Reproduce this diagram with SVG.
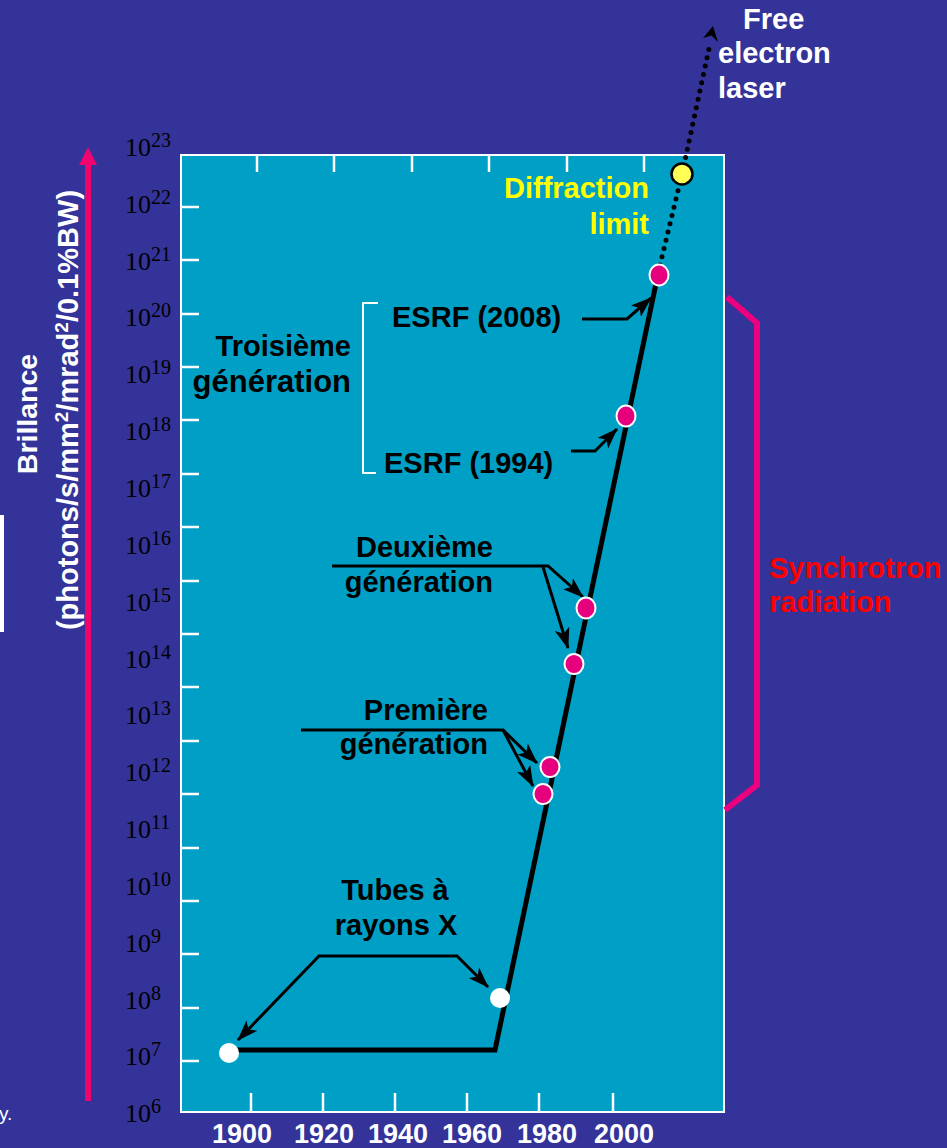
<svg xmlns="http://www.w3.org/2000/svg" width="947" height="1148" viewBox="0 0 947 1148">
<style>
.lbl{font-family:"Liberation Sans",Arial,sans-serif;font-weight:bold;font-size:29px;fill:#000}
.w{fill:#fff}
.yl{font-family:"Liberation Serif","Times New Roman",serif;font-size:26px;fill:#000}
.sup{font-size:20px}
.tick{stroke:#fff;stroke-width:2.5}
.conn{fill:none;stroke:#000;stroke-width:3}
.pk{fill:#E6007E;stroke:#fff;stroke-width:2}
</style>
<defs>
<marker id="ah" markerUnits="userSpaceOnUse" markerWidth="21" markerHeight="15" viewBox="0 0 21 15" refX="20" refY="7.5" orient="auto-start-reverse">
<path d="M0,0 L21,7.5 L0,15 L5,7.5 z" fill="#000"/>
</marker>
</defs>
<rect x="0" y="0" width="947" height="1148" fill="#333399"/>
<rect x="0" y="515" width="4" height="117" fill="#fff"/>
<text x="-1" y="1120" style="font-family:'Liberation Sans',Arial,sans-serif;font-size:19px;fill:#fff">y.</text>

<g id="yaxis-arrow">
<line x1="88" y1="1101" x2="88" y2="160" stroke="#F0056E" stroke-width="6"/>
<polygon points="88,147 97,165 79,165" fill="#F0056E"/>
<text transform="translate(37,414) rotate(-90)" text-anchor="middle" class="lbl w" style="font-size:28.5px">Brillance</text>
<text transform="translate(78,410) rotate(-90)" text-anchor="middle" class="lbl w">(photons/s/mm<tspan dy="-10" font-size="19">2</tspan><tspan dy="10">/mrad</tspan><tspan dy="-10" font-size="19">2</tspan><tspan dy="10">/0.1%BW)</tspan></text>
</g>

<g id="plot">
<rect x="181" y="155" width="543" height="957" fill="#00A0C6" stroke="#fff" stroke-width="2"/>
<g class="tick">
<line x1="181" y1="207" x2="199" y2="207"/><line x1="181" y1="260" x2="199" y2="260"/>
<line x1="181" y1="314" x2="199" y2="314"/><line x1="181" y1="367" x2="199" y2="367"/>
<line x1="181" y1="420" x2="199" y2="420"/><line x1="181" y1="474" x2="199" y2="474"/>
<line x1="181" y1="527" x2="199" y2="527"/><line x1="181" y1="581" x2="199" y2="581"/>
<line x1="181" y1="634" x2="199" y2="634"/><line x1="181" y1="687" x2="199" y2="687"/>
<line x1="181" y1="741" x2="199" y2="741"/><line x1="181" y1="794" x2="199" y2="794"/>
<line x1="181" y1="848" x2="199" y2="848"/><line x1="181" y1="901" x2="199" y2="901"/>
<line x1="181" y1="954" x2="199" y2="954"/><line x1="181" y1="1008" x2="199" y2="1008"/>
<line x1="181" y1="1061" x2="199" y2="1061"/>
<line x1="257" y1="155" x2="257" y2="172"/><line x1="334" y1="155" x2="334" y2="172"/>
<line x1="412" y1="155" x2="412" y2="172"/><line x1="489" y1="155" x2="489" y2="172"/>
<line x1="567" y1="155" x2="567" y2="172"/><line x1="644" y1="155" x2="644" y2="172"/>
<line x1="251" y1="1093" x2="251" y2="1112"/><line x1="323" y1="1093" x2="323" y2="1112"/>
<line x1="395" y1="1093" x2="395" y2="1112"/><line x1="467" y1="1093" x2="467" y2="1112"/>
<line x1="539" y1="1093" x2="539" y2="1112"/><line x1="613" y1="1093" x2="613" y2="1112"/>
</g>
</g>

<g id="y-labels" class="yl">
<text x="125" y="156">10<tspan class="sup" dy="-9">23</tspan></text>
<text x="125" y="213">10<tspan class="sup" dy="-9">22</tspan></text>
<text x="125" y="270">10<tspan class="sup" dy="-9">21</tspan></text>
<text x="125" y="326">10<tspan class="sup" dy="-9">20</tspan></text>
<text x="125" y="383">10<tspan class="sup" dy="-9">19</tspan></text>
<text x="125" y="440">10<tspan class="sup" dy="-9">18</tspan></text>
<text x="125" y="497">10<tspan class="sup" dy="-9">17</tspan></text>
<text x="125" y="554">10<tspan class="sup" dy="-9">16</tspan></text>
<text x="125" y="611">10<tspan class="sup" dy="-9">15</tspan></text>
<text x="125" y="668">10<tspan class="sup" dy="-9">14</tspan></text>
<text x="125" y="724">10<tspan class="sup" dy="-9">13</tspan></text>
<text x="125" y="781">10<tspan class="sup" dy="-9">12</tspan></text>
<text x="125" y="838">10<tspan class="sup" dy="-9">11</tspan></text>
<text x="125" y="895">10<tspan class="sup" dy="-9">10</tspan></text>
<text x="125" y="952">10<tspan class="sup" dy="-9">9</tspan></text>
<text x="125" y="1009">10<tspan class="sup" dy="-9">8</tspan></text>
<text x="125" y="1065">10<tspan class="sup" dy="-9">7</tspan></text>
<text x="125" y="1122">10<tspan class="sup" dy="-9">6</tspan></text>
</g>

<g id="x-labels" class="lbl w" text-anchor="middle" style="font-size:27px">
<text x="242" y="1143">1900</text>
<text x="324" y="1143">1920</text>
<text x="398" y="1143">1940</text>
<text x="472" y="1143">1960</text>
<text x="547" y="1143">1980</text>
<text x="624" y="1143">2000</text>
</g>

<g id="connectors">
<path d="M658,274 L495,1050 L229,1050" fill="none" stroke="#000" stroke-width="5" stroke-linejoin="miter"/>
<path d="M660,265 L682,174 L710,44" fill="none" stroke="#000" stroke-width="5" stroke-linecap="round" stroke-dasharray="0 8.5"/>
<polygon points="713,26 718,42 711.5,35.5 703,38" fill="#000"/>
<path class="conn" d="M238,1040 L319,956 L457,956 L488,987" marker-start="url(#ah)" marker-end="url(#ah)"/>
<path class="conn" d="M301,730 L503,730 L537,763" marker-end="url(#ah)"/>
<path class="conn" d="M503,730 L533,786" marker-end="url(#ah)"/>
<path class="conn" d="M332,566 L548,566 L583,597" marker-end="url(#ah)"/>
<path class="conn" d="M543,567 L568,648" marker-end="url(#ah)"/>
<path class="conn" d="M582,319 L627,319 L651,298" marker-end="url(#ah)"/>
<path class="conn" d="M571,451 L595,451 L617,429" marker-end="url(#ah)"/>
<path d="M378,303 L363,303 L363,473 L376,473" fill="none" stroke="#fff" stroke-width="2"/>
<path d="M727,297 L757,323 L757,785 L725,810" fill="none" stroke="#EC0080" stroke-width="6"/>
</g>

<g id="points">
<circle id="p-tube1" cx="229" cy="1053" r="10" fill="#fff"/>
<circle id="p-tube2" cx="500" cy="998" r="10" fill="#fff"/>
<ellipse id="p-g1a" class="pk" cx="543" cy="794" rx="9.5" ry="10"/>
<ellipse id="p-g1b" class="pk" cx="550" cy="767" rx="9.5" ry="10"/>
<ellipse id="p-g2a" class="pk" cx="574" cy="664" rx="9.5" ry="10"/>
<ellipse id="p-g2b" class="pk" cx="586" cy="608" rx="9.5" ry="10.5"/>
<ellipse id="p-esrf94" class="pk" cx="626" cy="416" rx="9.5" ry="10.5"/>
<ellipse id="p-esrf08" class="pk" cx="659" cy="275" rx="9.5" ry="10.5"/>
<circle id="p-diff" cx="682" cy="174" r="10.5" fill="#FFFF55" stroke="#000" stroke-width="2.5"/>
</g>

<g id="labels" class="lbl">
<g id="n-fel" class="w"><text x="743" y="29">Free</text><text x="718" y="63">electron</text><text x="718" y="98">laser</text></g>
<g id="n-diff" style="fill:#FFFF00" text-anchor="end"><text x="649" y="198">Diffraction</text><text x="649" y="234">limit</text></g>
<g id="n-esrf08"><text x="392" y="327">ESRF (2008)</text></g>
<g id="n-troisieme" text-anchor="end"><text x="351" y="356">Troisième</text><text x="351" y="392" style="font-size:31px">génération</text></g>
<g id="n-esrf94"><text x="384" y="473">ESRF (1994)</text></g>
<g id="n-deuxieme" text-anchor="end"><text x="493" y="557">Deuxième</text><text x="493" y="592">génération</text></g>
<g id="n-premiere" text-anchor="end"><text x="488" y="720">Première</text><text x="488" y="754">génération</text></g>
<g id="n-tubes" text-anchor="middle"><text x="395" y="900">Tubes à</text><text x="396" y="935">rayons X</text></g>
<g id="n-sync" style="fill:#FF0000"><text x="769" y="578">Synchrotron</text><text x="769" y="612">radiation</text></g>
</g>
</svg>
